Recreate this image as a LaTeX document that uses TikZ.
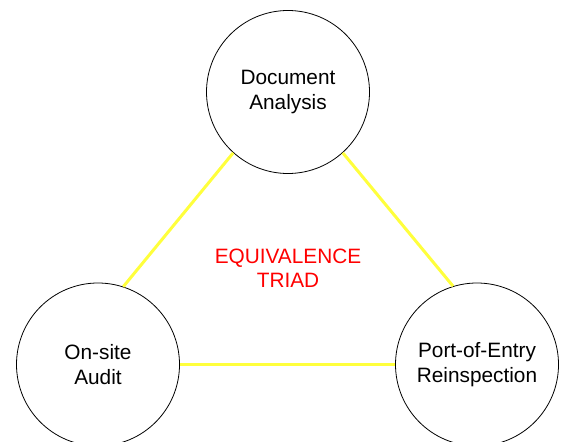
\documentclass[tikz,border=0pt]{standalone}
\usepackage{fontspec}
\setmainfont{Liberation Sans}
\definecolor{linkyellow}{RGB}{255,255,60}
\definecolor{triadred}{RGB}{255,0,0}
\begin{document}
\begin{tikzpicture}[x=1pt,y=-1pt,
  stage/.style={draw=black, line width=0.8pt, circle, minimum size=163pt, inner sep=0pt,
    align=center, font=\fontsize{20.8}{24.5}\selectfont},
  link/.style={draw=linkyellow, line width=3pt}]
\useasboundingbox (0,0) rectangle (561,441);
\clip (0,0) rectangle (561,441);
\node[stage] (doc) at (288,92) {Document\\Analysis};
\node[stage] (audit) at (98,364.5) {On-site\\Audit};
\node[stage] (port) at (477,364.5) {Port-of-Entry\\Reinspection};
\draw[link] (doc.-132) -- (audit.72);
\draw[link] (doc.-48) -- (port.107);
\draw[link] (audit.east) -- (port.west);
\node[text=triadred, align=center, font=\fontsize{20.8}{24.5}\selectfont] (triad) at (288,268) {EQUIVALENCE\\TRIAD};
\end{tikzpicture}
\end{document}
